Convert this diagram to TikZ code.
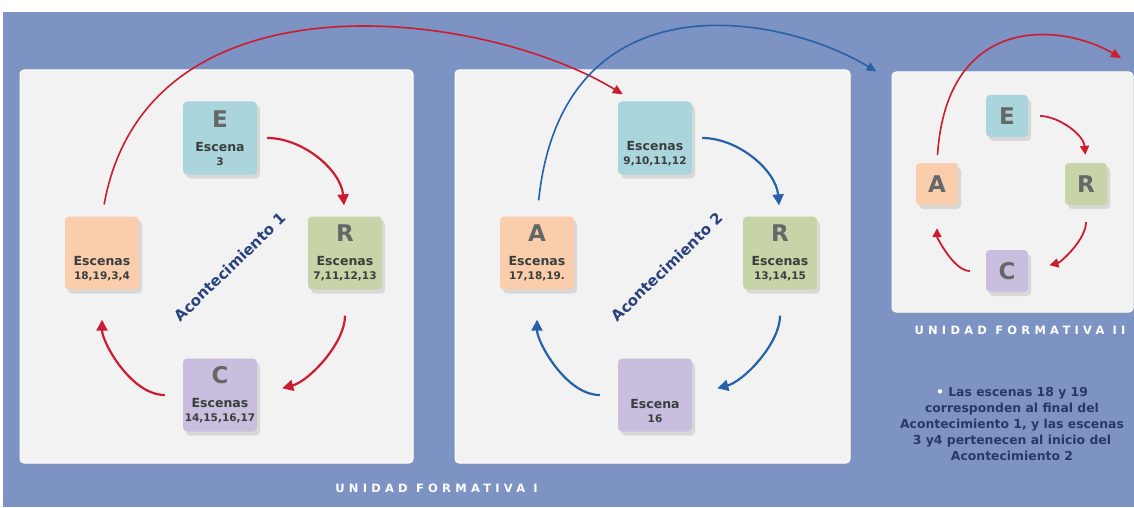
\documentclass[tikz,border=0pt]{standalone}
\usepackage{fontspec}
\setmainfont{DejaVu Sans}
\usetikzlibrary{arrows.meta, calc, shadows}
\definecolor{colorFondo}{RGB}{125,147,196}
\definecolor{colorPanel}{RGB}{242,242,242}
\definecolor{colorE}{RGB}{170,213,221}
\definecolor{colorR}{RGB}{199,212,168}
\definecolor{colorC}{RGB}{201,190,221}
\definecolor{colorA}{RGB}{250,206,172}
\definecolor{colorRojo}{RGB}{204,28,48}
\definecolor{colorAzul}{RGB}{38,98,168}
\definecolor{colorLetra}{RGB}{100,104,104}
\definecolor{colorTexto}{RGB}{58,62,60}
\definecolor{colorTitulo}{RGB}{42,66,128}
\definecolor{colorNota}{RGB}{42,56,100}

\newcommand{\letra}[1]{{\fontsize{23}{23}\selectfont\color{colorLetra}#1}}
\newcommand{\caja}[3]{\letra{#1}\\[10pt]{\fontsize{12.5}{14}\selectfont #2}\\{\fontsize{10.5}{14}\selectfont #3}}

\tikzset{
  panel/.style={fill=colorPanel, draw=white, line width=1pt, rounded corners=4pt,
    drop shadow={shadow xshift=1pt, shadow yshift=-2pt, fill=black!40, opacity=0.3}},
  caja/.style={rounded corners=4pt, minimum width=74pt, minimum height=73pt, inner sep=0pt,
    align=center, font=\bfseries\fontsize{10.5}{14}\selectfont, text=colorTexto,
    drop shadow={shadow xshift=3pt, shadow yshift=-4pt, fill=black!30, opacity=0.4}},
  cajita/.style={caja, minimum width=42pt, minimum height=42pt},
  flecha/.style={line width=2.2pt, -{Triangle[length=11pt,width=11pt]}},
  flechita/.style={line width=1.8pt, -{Triangle[length=9pt,width=9pt]}},
  arco/.style={line width=1.6pt, -{Triangle[length=10pt,width=9pt]}},
  titulo/.style={text=colorTitulo, font=\bfseries\fontsize{15}{15}\selectfont, rotate=44},
  unidad/.style={text=white, font=\bfseries\fontsize{11.5}{12}\selectfont\addfontfeature{LetterSpace=37}},
  nota/.style={text=colorNota, align=center, font=\bfseries\fontsize{12.4}{16}\selectfont}
}

\begin{document}
\begin{tikzpicture}[x=1pt,y=1pt]
  \useasboundingbox (0,0) rectangle (1134,507);
  \fill[colorFondo] (3,0) rectangle (1134,495);

  % unidades
  \node[panel, minimum width=393pt, minimum height=393pt] (u1) at (216.5,240.5) {};
  \node[panel, minimum width=395pt, minimum height=393pt] (p2) at (652.5,240.5) {};
  \node[panel, minimum width=241pt, minimum height=240pt] (u2) at (1012.5,315) {};

  % acontecimiento 1
  \node[caja, fill=colorE] (e1) at (220,369) {\caja{E}{Escena}{3}};
  \node[caja, fill=colorA] (a1) at (102,254) {\caja{\phantom{A}}{Escenas}{18,19,3,4}};
  \node[caja, fill=colorR] (r1) at (345,254) {\caja{R}{Escenas}{7,11,12,13}};
  \node[caja, fill=colorC] (c1) at (220,112) {\caja{C}{Escenas}{14,15,16,17}};
  \node[titulo] (ac1) at (230,240) {Acontecimiento 1};

  % acontecimiento 2
  \node[caja, fill=colorE] (e2) at (655,369) {\caja{\phantom{E}}{Escenas}{9,10,11,12}};
  \node[caja, fill=colorA] (a2) at (537,254) {\caja{A}{Escenas}{17,18,19.}};
  \node[caja, fill=colorR] (r2) at (780,254) {\caja{R}{Escenas}{13,14,15}};
  \node[caja, fill=colorC] (c2) at (655,112) {\caja{\phantom{C}}{Escena}{16}};
  \node[titulo] (ac2) at (667,240) {Acontecimiento 2};

  % unidad II
  \node[cajita, fill=colorE] (e3) at (1007,391) {\letra{E}};
  \node[cajita, fill=colorA] (a3) at (937,323) {\letra{A}};
  \node[cajita, fill=colorR] (r3) at (1086,323) {\letra{R}};
  \node[cajita, fill=colorC] (c3) at (1007,236) {\letra{C}};
  \coordinate (sigue) at (1121,449);

  % ciclos
  \foreach \p/\col in {1/colorRojo, 2/colorAzul}{
    \draw[flecha, \col, shorten <=10pt, shorten >=11pt] (e\p.east) to[out=0, in=95] (r\p.north);
    \draw[flecha, \col, shorten <=26pt, shorten >=26pt] (r\p.south) to[out=-90, in=15] (c\p.east);
    \draw[flecha, \col, shorten <=18pt, shorten >=30pt] (c\p.west) to[out=180, in=-90] (a\p.south);
  }
  \draw[flechita, colorRojo, shorten <=12pt, shorten >=8pt] (e3.east) to[out=0, in=95] (r3.north);
  \draw[flechita, colorRojo, shorten <=17pt, shorten >=22pt] (r3.south) to[out=-90, in=15] (c3.east);
  \draw[flechita, colorRojo, shorten <=16pt, shorten >=23pt] (c3.west) to[out=180, in=-90] (a3.south);

  % saltos entre acontecimientos
  \draw[arco, colorRojo, shorten <=12pt] (a1.north) .. controls +(45,250) and +(-140,85) .. ($(e2.north west)+(5,7)$);
  \draw[arco, colorAzul, shorten <=16pt] (a2.north) .. controls +(25,240) and +(-100,60) .. ($(u2.north west)+(-15,0)$);
  \draw[arco, colorRojo, shorten <=8pt] (a3.north) .. controls +(10,150) and +(-60,35) .. (sigue);

  \node[unidad] (t1) at (436.5,19) {UNIDAD FORMATIVA I};
  \node[unidad] (t2) at (1020,177) {UNIDAD FORMATIVA II};
  \node[nota] (nota) at (1012,83) {{\color{white}•} Las escenas 18 y 19\\corresponden al final del\\Acontecimiento 1, y las escenas\\3 y4 pertenecen al inicio del\\Acontecimiento 2};
\end{tikzpicture}
\end{document}
